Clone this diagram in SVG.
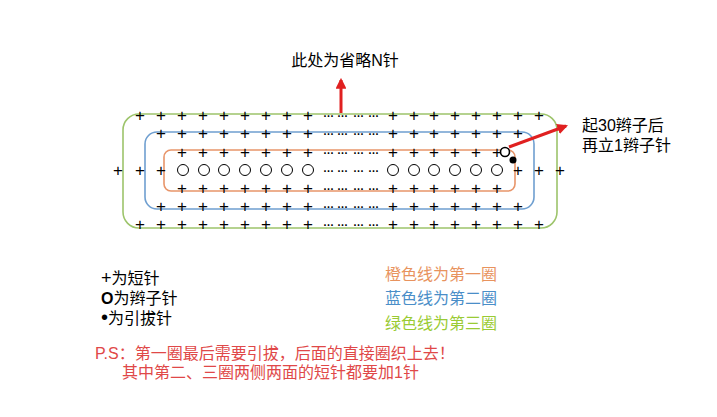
<svg xmlns="http://www.w3.org/2000/svg" width="717" height="417" viewBox="0 0 717 417">
<defs>
<style>
.p{font-family:"Liberation Sans","DejaVu Sans",sans-serif;font-size:17px;fill:#000;text-anchor:middle}
.d{font-family:"Liberation Sans","DejaVu Sans",sans-serif;font-size:11px;fill:#000;font-weight:bold}
.t{font-family:"Liberation Sans","Noto Sans CJK SC",sans-serif;font-size:16px}
.ring{fill:none;stroke-width:1.6}
.c{fill:#fff;stroke:#000;stroke-width:1}
.arr{stroke:#e02020;stroke-width:3;fill:none}
</style>
<marker id="ah" viewBox="0 0 10 10" refX="8" refY="5" markerWidth="3.6" markerHeight="3.6" orient="auto" markerUnits="strokeWidth">
<path d="M0,0 L10,5 L0,10 Z" fill="#e02020"/>
</marker>
</defs>
<rect width="717" height="417" fill="#fff"/>
<g id="loops">
<rect id="green-loop" class="ring" x="123" y="114" width="434" height="114" rx="16" stroke="#9dc46b"/>
<rect id="blue-loop" class="ring" x="145" y="132" width="389" height="77" rx="12" stroke="#6f9fd0"/>
<rect id="orange-loop" class="ring" x="164" y="150" width="351" height="41" rx="7" stroke="#e8956a"/>
</g>
<g id="stitches">
<text class="p" y="121" x="140 161 182 203 224 245 266 287 308">+++++++++</text>
<text class="p" y="121" x="393 414 434 455 476 497 518 539">++++++++</text>
<text class="p" y="139" x="161 182 203 224 245 266 287 308">++++++++</text>
<text class="p" y="139" x="393 414 434 455 476 497 518">+++++++</text>
<text class="p" y="158" x="182 203 224 245 266 287 308">+++++++</text>
<text class="p" y="158" x="393 414 434 455 476 497">++++++</text>
<text class="p" y="176" x="118 140 161">+++</text>
<text class="p" y="176" x="518 539 560">+++</text>
<text class="p" y="194" x="182 203 224 245 266 287 308">+++++++</text>
<text class="p" y="194" x="393 414 434 455 476 497">++++++</text>
<text class="p" y="212" x="161 182 203 224 245 266 287 308">++++++++</text>
<text class="p" y="212" x="393 414 434 455 476 497 518">+++++++</text>
<text class="p" y="230" x="140 161 182 203 224 245 266 287 308">+++++++++</text>
<text class="p" y="230" x="393 414 434 455 476 497 518 539">++++++++</text>
<g id="dots">
<text class="d" x="323 337 353 368" y="116.5">…………</text>
<text class="d" x="323 337 353 368" y="134.5">…………</text>
<text class="d" x="323 337 353 368" y="153.5">…………</text>
<text class="d" x="323 337 353 368" y="171.5">…………</text>
<text class="d" x="323 337 353 368" y="189.5">…………</text>
<text class="d" x="323 337 353 368" y="207.5">…………</text>
<text class="d" x="323 337 353 368" y="225.5">…………</text>
</g>
<g id="chain-stitches">
<circle class="c" cx="183" cy="170" r="5.5"/>
<circle class="c" cx="204" cy="170" r="5.5"/>
<circle class="c" cx="224" cy="170" r="5.5"/>
<circle class="c" cx="245" cy="170" r="5.5"/>
<circle class="c" cx="266" cy="170" r="5.5"/>
<circle class="c" cx="287" cy="170" r="5.5"/>
<circle class="c" cx="308" cy="170" r="5.5"/>
<circle class="c" cx="393" cy="170" r="5.5"/>
<circle class="c" cx="414" cy="170" r="5.5"/>
<circle class="c" cx="434" cy="170" r="5.5"/>
<circle class="c" cx="455" cy="170" r="5.5"/>
<circle class="c" cx="476" cy="170" r="5.5"/>
<circle class="c" cx="497" cy="170" r="5.5"/>
<circle cx="505" cy="152" r="4.5" fill="#fff" stroke="#000" stroke-width="1.6"/>
<circle cx="513" cy="160" r="3.5" fill="#000"/>
</g>
</g>
<g id="connectors">
<line class="arr" x1="341" y1="113" x2="341" y2="80" marker-end="url(#ah)"/>
<line class="arr" x1="509" y1="147" x2="566" y2="126" marker-end="url(#ah)"/>
</g>
<g id="label-top"><text class="t" x="345" y="66" text-anchor="middle" fill="#000">此处为省略N针</text></g>
<g id="label-right">
<text class="t" x="582" y="131" fill="#000">起30辫子后</text>
<text class="t" x="582" y="151" fill="#000">再立1辫子针</text>
</g>
<g id="legend-symbols">
<text class="t" x="101" y="284" fill="#000"><tspan font-size="18">+</tspan>为短针</text>
<text class="t" x="101" y="304" fill="#000"><tspan font-weight="bold">O</tspan>为辫子针</text>
<text class="t" x="101" y="324" fill="#000"><tspan font-size="20">•</tspan>为引拔针</text>
</g>
<g id="legend-colors">
<text class="t" x="385" y="280" fill="#e8935e">橙色线为第一圈</text>
<text class="t" x="385" y="304" fill="#4a8ec8">蓝色线为第二圈</text>
<text class="t" x="385" y="329" fill="#9acb34">绿色线为第三圈</text>
</g>
<g id="note">
<text class="t" x="95" y="359" fill="#e04848">P.S：第一圈最后需要引拔，后面的直接圈织上去！</text>
<text class="t" x="122" y="378" fill="#e04848">其中第二、三圈两侧两面的短针都要加1针</text>
</g>
</svg>
